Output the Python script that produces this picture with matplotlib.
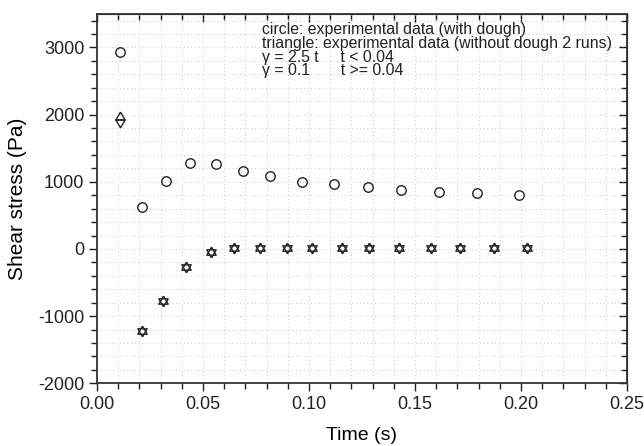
import numpy as np
import matplotlib.pyplot as plt
from matplotlib.ticker import MultipleLocator

plt.rcParams['font.family'] = ['Liberation Sans', 'DejaVu Sans']
plt.rcParams['axes.unicode_minus'] = False

# circles: with dough
t_dough = [0.011, 0.021, 0.0324, 0.0439, 0.056, 0.0689, 0.0818,
           0.0967, 0.1118, 0.1277, 0.1435, 0.1615, 0.1792, 0.199]
s_dough = [2930, 631, 1015, 1279, 1264, 1154, 1079,
           1000, 960, 915, 881, 851, 826, 801]

# triangles: without dough, 2 runs
t_run = [0.011, 0.021, 0.0313, 0.042, 0.054, 0.0646, 0.0769, 0.0898,
         0.1015, 0.1157, 0.1283, 0.1425, 0.1574, 0.1712, 0.1873, 0.203]
s_run1 = [1958, -1224, -776, -264, -40, 10, 10, 10,
          10, 10, 10, 10, 10, 10, 10, 10]
s_run2 = [1893, -1224, -776, -264, -40, 10, 10, 10,
          10, 10, 10, 10, 10, 10, 10, 10]

# triangles centred on their centroid, so that up + down gives a star
tri_up = [(0, 1), (-0.866, -0.5), (0.866, -0.5), (0, 1)]
tri_dn = [(0, -1), (-0.866, 0.5), (0.866, 0.5), (0, -1)]

fig = plt.figure(figsize=(6.44, 4.46), dpi=100)
ax = fig.add_axes([0.1506, 0.1406, 0.8230, 0.8284])

ax.plot(t_dough, s_dough, 'o', mfc='none', mec='#222222', ms=6.8, mew=1.0)
ax.plot(t_run, s_run1, ls='none', marker=tri_up, mfc='none', mec='#222222', ms=7.8, mew=1.0)
ax.plot(t_run, s_run2, ls='none', marker=tri_dn, mfc='none', mec='#222222', ms=7.8, mew=1.0)

ax.set_xlim(0, 0.25)
ax.set_ylim(-2000, 3500)
ax.xaxis.set_major_locator(MultipleLocator(0.05))
ax.xaxis.set_minor_locator(MultipleLocator(0.01))
ax.set_yticks([-2000, -1000, 0, 1000, 2000, 3000])
ax.yaxis.set_minor_locator(MultipleLocator(200))
ax.xaxis.set_major_formatter(plt.FormatStrFormatter('%.2f'))

ax.grid(which='both', linestyle=(0, (1, 3.5)), color='#b5b5b5', linewidth=0.6)
ax.set_axisbelow(True)

ax.tick_params(which='both', direction='out', labelsize=13, colors='#222222')
ax.tick_params(which='major', length=6, width=1, pad=3)
ax.tick_params(which='minor', length=4, width=1)
for s in ax.spines.values():
    s.set_linewidth(1.3)
    s.set_color('#333333')

# top and right ticks point inward
top = ax.secondary_xaxis('top')
top.xaxis.set_major_locator(MultipleLocator(0.05))
top.xaxis.set_minor_locator(MultipleLocator(0.01))
top.tick_params(which='both', direction='in', labeltop=False, width=1)
top.tick_params(which='major', length=6)
top.tick_params(which='minor', length=4)
right = ax.secondary_yaxis('right')
right.set_yticks([-2000, -1000, 0, 1000, 2000, 3000])
right.yaxis.set_minor_locator(MultipleLocator(200))
right.tick_params(which='both', direction='in', labelright=False, width=1)
right.tick_params(which='major', length=6)
right.tick_params(which='minor', length=4)

ax.set_xlabel('Time (s)', fontsize=14, labelpad=10)
ax.set_ylabel('Shear stress (Pa)', fontsize=15, labelpad=8)

note = ('circle: experimental data (with dough)\n'
        'triangle: experimental data (without dough 2 runs)\n'
        '\u03b3 = 2.5 t     t < 0.04\n'
        '\u03b3 = 0.1       t >= 0.04')
ax.text(0.0778, 2960, note, fontsize=11.4, va='center', ha='left',
        linespacing=0.9, color='#222222')

fig.savefig('out.png', dpi=100)
